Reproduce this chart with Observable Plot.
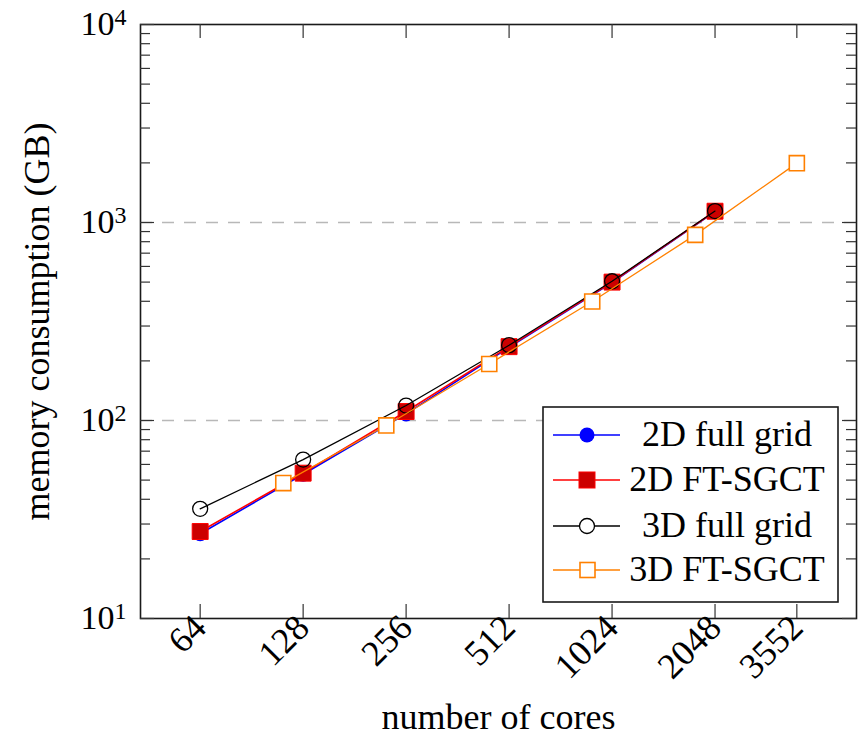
<!DOCTYPE html>
<html>
<head>
<meta charset="utf-8">
<script src="https://cdn.jsdelivr.net/npm/d3@7"></script>
<script src="https://cdn.jsdelivr.net/npm/@observablehq/plot@0.6"></script>
<style>
  body { margin: 0; background: white; }
  #chart { width: 858px; height: 739px; }
</style>
</head>
<body>
<div id="chart"></div>
<script>
// ---- data ----
const cores2D = [64, 128, 256, 512, 1024, 2048];
const fullGrid2D = [26.8, 53.5, 108, 234, 497, 1135];
const ftsgct2D = [27.5, 54.2, 111, 236, 500, 1140];
const fullGrid3D = [35.8, 63.5, 119, 240, 505, 1142];
const cores3DFT = [112, 224, 448, 896, 1792, 3552];
const ftsgct3D = [48.3, 94.4, 193, 399, 866, 1994];

const xTicks = [64, 128, 256, 512, 1024, 2048, 3552];
const yMajor = [10, 100, 1000, 10000];
const yGrid = [100, 1000];
const yMinor = [2,3,4,5,6,7,8,9].flatMap(m => [10, 100, 1000].map(d => m * d));

const seriesNames = ["2D full grid", "2D FT-SGCT", "3D full grid", "3D FT-SGCT"];
const seriesColors = ["#0000ff", "#ff0000", "#000000", "#ff8000"];

const toRows = (xs, ys) => xs.map((x, i) => ({x, y: ys[i]}));
const s1 = toRows(cores2D, fullGrid2D);
const s2 = toRows(cores2D, ftsgct2D);
const s3 = toRows(cores2D, fullGrid3D);
const s4 = toRows(cores3DFT, ftsgct3D);

const W = 858, H = 739;
const mL = 140, mR = 2, mT = 24, mB = 121;
const innerW = W - mL - mR, innerH = H - mT - mB;
const font = "'Liberation Serif', 'Times New Roman', serif";

// enlarge x limits by 10% of the log range (pgfplots style)
const lx0 = Math.log2(64), lx1 = Math.log2(3552), pad = 0.1 * (lx1 - lx0);

const svg = Plot.plot({
  width: W, height: H,
  marginLeft: mL, marginRight: mR, marginTop: mT, marginBottom: mB,
  style: {fontFamily: font, fontSize: "34px", background: "white", color: "black"},
  x: {type: "log", base: 2, domain: [2 ** (lx0 - pad), 2 ** (lx1 + pad)], label: null},
  y: {type: "log", domain: [10, 10000], label: null},
  marks: [
    Plot.ruleY(yGrid, {y: d => d, stroke: "#b8b8b8", strokeWidth: 1.6, strokeDasharray: "12,10"}),
    // series 1: 2D full grid
    Plot.line(s1, {x: "x", y: "y", stroke: seriesColors[0], strokeWidth: 1.6}),
    Plot.dot(s1, {x: "x", y: "y", r: 7.5, fill: seriesColors[0], stroke: "none"}),
    // series 2: 2D FT-SGCT
    Plot.line(s2, {x: "x", y: "y", stroke: seriesColors[1], strokeWidth: 1.6}),
    Plot.dot(s2, {x: "x", y: "y", symbol: "square", r: 9, fill: "#cc0000", stroke: "#ff0000", strokeWidth: 1}),
    // series 3: 3D full grid
    Plot.line(s3, {x: "x", y: "y", stroke: seriesColors[2], strokeWidth: 1.3}),
    Plot.dot(s3, {x: "x", y: "y", r: 7.5, fill: "none", stroke: seriesColors[2], strokeWidth: 1.3}),
    // series 4: 3D FT-SGCT
    Plot.line(s4, {x: "x", y: "y", stroke: seriesColors[3], strokeWidth: 1.3}),
    Plot.dot(s4, {x: "x", y: "y", symbol: "square", r: 8.5, fill: "white", stroke: seriesColors[3], strokeWidth: 1.6}),
    // frame
    Plot.frame({stroke: "#1a1a1a", strokeWidth: 1.6}),
    // inward ticks
    Plot.tickX(xTicks, {x: d => d, insetTop: innerH - 14, stroke: "#333", strokeWidth: 1.2}),
    Plot.tickX(xTicks, {x: d => d, insetBottom: innerH - 14, stroke: "#333", strokeWidth: 1.2}),
    Plot.tickY(yMajor, {y: d => d, insetRight: innerW - 14, stroke: "#333", strokeWidth: 1.2}),
    Plot.tickY(yMajor, {y: d => d, insetLeft: innerW - 14, stroke: "#333", strokeWidth: 1.2}),
    Plot.tickY(yMinor, {y: d => d, insetRight: innerW - 10, stroke: "#333", strokeWidth: 1.2}),
    Plot.tickY(yMinor, {y: d => d, insetLeft: innerW - 10, stroke: "#333", strokeWidth: 1.2}),
    // axes labels
    Plot.axisX({ticks: xTicks, tickSize: 0, tickRotate: -45, tickPadding: 3, tickFormat: d => String(d),
      fontSize: 36, label: null}),
    Plot.axisY({ticks: yMajor, tickSize: 0, tickPadding: 14, fontSize: 34, label: null,
      tickFormat: d => "10^" + Math.round(Math.log10(d))}),
    Plot.text(["memory consumption (GB)"], {frameAnchor: "left", dx: -103, rotate: -90, fontSize: 36,
      textAnchor: "middle", fill: "black"}),
    Plot.text(["number of cores"], {frameAnchor: "bottom", dy: 110, fontSize: 36, fill: "black"})
  ]
});

// superscripts for y tick labels
d3.select(svg).selectAll("text").each(function () {
  const t = this.textContent;
  const m = /^10\^(\d+)$/.exec(t);
  if (m) {
    const sel = d3.select(this);
    sel.text("10");
    sel.append("tspan").attr("dy", "-0.45em").attr("font-size", "24px").text(m[1]);
  }
});

// legend (inside the plot, lower right)
const lg = d3.select(svg).append("g").attr("font-family", font).attr("font-size", 36);
const lx = 543, ly = 407, lw = 295, lh = 195;
lg.append("rect").attr("x", lx).attr("y", ly).attr("width", lw).attr("height", lh)
  .attr("fill", "white").attr("stroke", "#1a1a1a").attr("stroke-width", 1.6);
const rowY = [435, 480, 526, 570];
seriesNames.forEach((name, i) => {
  const y = rowY[i];
  const c = seriesColors[i];
  lg.append("line").attr("x1", 553).attr("x2", 620).attr("y1", y).attr("y2", y)
    .attr("stroke", c).attr("stroke-width", i < 2 ? 1.6 : 1.3);
  if (i === 0) lg.append("circle").attr("cx", 587).attr("cy", y).attr("r", 7.5).attr("fill", c);
  if (i === 1) lg.append("rect").attr("x", 579).attr("y", y - 8).attr("width", 16).attr("height", 16)
    .attr("fill", "#cc0000").attr("stroke", "#ff0000");
  if (i === 2) lg.append("circle").attr("cx", 587).attr("cy", y).attr("r", 7.5)
    .attr("fill", "white").attr("stroke", "black").attr("stroke-width", 1.3);
  if (i === 3) lg.append("rect").attr("x", 580).attr("y", y - 7.5).attr("width", 15).attr("height", 15)
    .attr("fill", "white").attr("stroke", c).attr("stroke-width", 1.6);
  lg.append("text").attr("x", 727).attr("y", y + 11).attr("text-anchor", "middle")
    .attr("fill", "black").text(name);
});

document.getElementById("chart").appendChild(svg);
</script>
</body>
</html>
